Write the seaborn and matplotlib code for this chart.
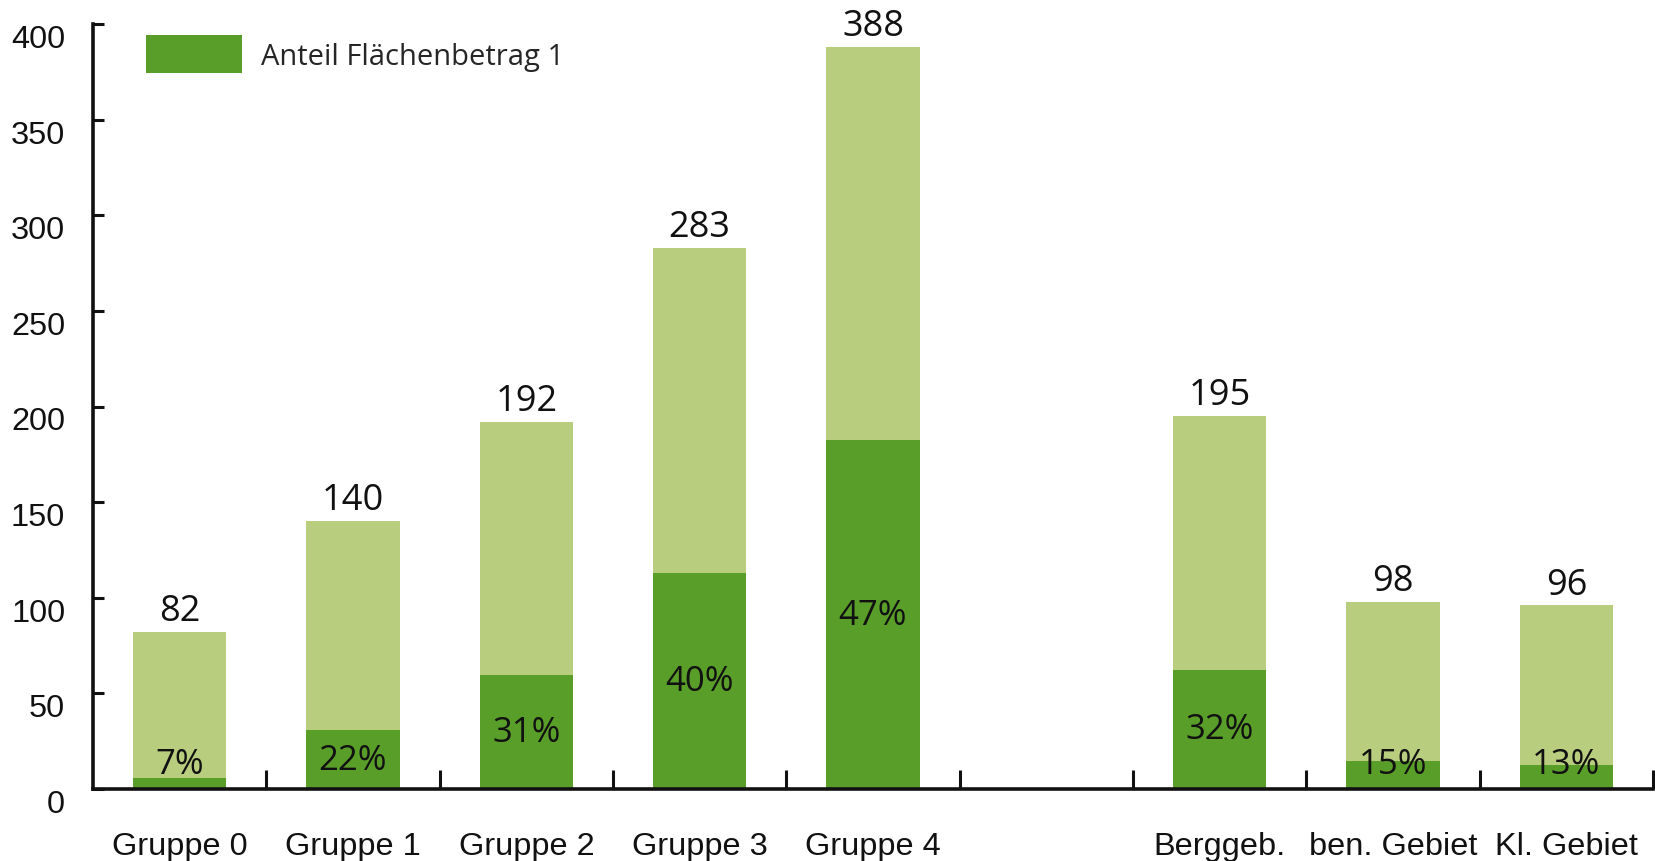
import numpy as np
import pandas as pd
import seaborn as sns
import matplotlib
matplotlib.use("Agg")
import matplotlib.pyplot as plt
from matplotlib.patches import Patch

# ---- data ----
categories = ["Gruppe 0", "Gruppe 1", "Gruppe 2", "Gruppe 3", "Gruppe 4",
              "Berggeb.", "ben. Gebiet", "Kl. Gebiet"]
totals = [82, 140, 192, 283, 388, 195, 98, 96]
percent = [7, 22, 31, 40, 47, 32, 15, 13]
yticks = [0, 50, 100, 150, 200, 250, 300, 350, 400]
legend_label = "Anteil Flächenbetrag 1"

LIGHT = "#B9CD7E"
DARK = "#5A9E2A"

sns.set_theme(style="white")
plt.rcParams["font.family"] = ["Liberation Sans", "DejaVu Sans"]

dark_vals = [t * p / 100 for t, p in zip(totals, percent)]
df = pd.DataFrame({"cat": categories, "total": totals, "dark": dark_vals})
order = categories[:5] + [" "] + categories[5:]

fig = plt.figure(figsize=(16.56, 8.62), dpi=100)
ax = fig.add_axes([93 / 1656, 72 / 862, 1560 / 1656, 765 / 862])

bw = 0.537
sns.barplot(data=df, x="cat", y="total", order=order, color=LIGHT,
            saturation=1, width=bw, linewidth=0, ax=ax)
sns.barplot(data=df, x="cat", y="dark", order=order, color=DARK,
            saturation=1, width=bw, linewidth=0, ax=ax)

pos = {c: i for i, c in enumerate(order)}
for c, t, d, p in zip(categories, totals, dark_vals, percent):
    x = pos[c]
    ax.annotate(str(t), (x, t), xytext=(0, 2), textcoords="offset points",
                ha="center", va="bottom", fontsize=26, family="Open Sans",
                color="#111111", annotation_clip=False)
    ax.text(x, max(d / 2, 13), f"{p}%", ha="center", va="center",
            fontsize=25, family="Open Sans", color="#111111")

ax.set_xlim(-0.5, len(order) - 0.5)
ax.set_ylim(0, 400)
sns.despine(ax=ax)
for s in ["left", "bottom"]:
    ax.spines[s].set_linewidth(2.6)
    ax.spines[s].set_color("#111111")

ax.set_yticks(yticks)
ax.set_yticklabels([str(v) for v in yticks])
ax.tick_params(axis="y", direction="in", length=8, width=2.2, pad=20,
               labelsize=23.4, colors="#111111", left=True)
for lab in ax.get_yticklabels():
    lab.set_va("top")

ax.set_xticks(list(pos[c] for c in categories))
ax.set_xticklabels(categories)
ax.tick_params(axis="x", which="major", length=0, pad=30, labelsize=23.4,
               colors="#111111")
ax.set_xticks(np.arange(0.5, len(order), 1.0), minor=True)
ax.tick_params(axis="x", which="minor", direction="in", length=14, width=2.2,
               colors="#111111", bottom=True)
ax.set_xlabel("")
ax.set_ylabel("")

leg = ax.legend(handles=[Patch(facecolor=DARK, edgecolor="none", label=legend_label)],
                loc="upper left", bbox_to_anchor=(0.034, 0.985), frameon=False,
                borderaxespad=0, borderpad=0,
                handlelength=3.3, handleheight=1.6, handletextpad=0.65,
                prop={"family": "Open Sans", "size": 21})

fig.savefig("out.png", dpi=100, facecolor="white")
